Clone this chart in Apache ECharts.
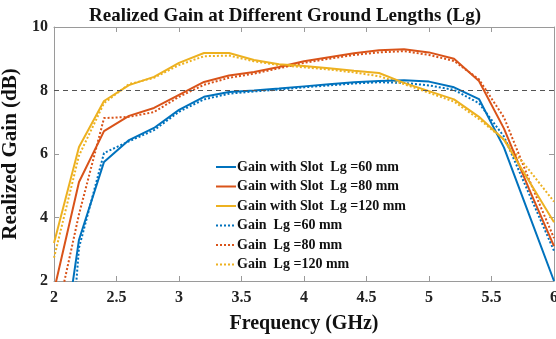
<!DOCTYPE html>
<html>
<head>
<meta charset="utf-8">
<script src="https://cdn.jsdelivr.net/npm/echarts@6/dist/echarts.min.js"></script>
<style>html,body{margin:0;padding:0;background:#fff;}#c{width:556px;height:339px;}</style>
</head>
<body>
<div id="c"></div>
<script>
var freq = [2.0,2.2,2.4,2.6,2.8,3.0,3.2,3.4,3.6,3.8,4.0,4.2,4.4,4.6,4.8,5.0,5.2,5.4,5.6,5.8,6.0];
var slot60  = [-2.1,3.3,5.75,6.44,6.82,7.39,7.8,7.95,8.0,8.06,8.13,8.2,8.26,8.3,8.32,8.28,8.1,7.73,6.2,4.1,2.0];
var slot80  = [1.7,5.12,6.72,7.2,7.45,7.86,8.27,8.47,8.58,8.74,8.92,9.05,9.17,9.27,9.3,9.2,9.0,8.3,6.8,4.9,3.1];
var slot120 = [3.2,6.22,7.67,8.17,8.43,8.87,9.18,9.18,8.96,8.83,8.77,8.7,8.62,8.55,8.24,7.98,7.72,7.17,6.45,5.15,3.85];
var gain60  = [-7,3.05,6.03,6.4,6.75,7.33,7.72,7.9,7.97,8.03,8.1,8.16,8.22,8.26,8.24,8.16,8.02,7.6,6.55,4.75,2.95];
var gain80  = [0.5,4.1,7.13,7.17,7.32,7.8,8.18,8.4,8.53,8.7,8.87,9.0,9.12,9.2,9.24,9.12,8.93,8.35,7.15,5.2,3.35];
var gain120 = [2.73,5.95,7.6,8.2,8.4,8.8,9.08,9.1,8.92,8.8,8.73,8.66,8.57,8.45,8.2,7.93,7.65,7.1,6.45,5.5,4.5];
var names = ['Gain with Slot  Lg =60 mm','Gain with Slot  Lg =80 mm','Gain with Slot  Lg =120 mm','Gain  Lg =60 mm','Gain  Lg =80 mm','Gain  Lg =120 mm'];
var refLevel = 8;

var colors = ['#0072BD','#D95319','#EDB120'];
var FONT = '"Liberation Serif","Times New Roman",serif';
function pairs(arr){ return freq.map(function(f,i){ return [f, arr[i]]; }); }
function mk(name, arr, color, dotted){
  return {
    name: name, type: 'line', data: pairs(arr), symbol: 'none', clip: true,
    lineStyle: {color: color, width: 2, type: dotted ? [2,2] : 'solid'},
    itemStyle: {color: color}, z: dotted ? 3 : 4
  };
}
var series = [
  mk(names[0], slot60, colors[0], false),
  mk(names[1], slot80, colors[1], false),
  mk(names[2], slot120, colors[2], false),
  mk(names[3], gain60, colors[0], true),
  mk(names[4], gain80, colors[1], true),
  mk(names[5], gain120, colors[2], true)
];
series[0].markLine = {
  silent: true, symbol: 'none', label: {show: false},
  lineStyle: {color: '#555', type: [5,4], width: 1},
  data: [{yAxis: refLevel}]
};
var axisLine = {show: true, lineStyle: {color: '#9a9a9a', width: 1}};
var chart = echarts.init(document.getElementById('c'), null, {renderer: 'canvas'});
chart.setOption({
  animation: false,
  backgroundColor: '#fff',
  graphic: [{
    type: 'text', x: 285, y: 16,
    style: {text: 'Realized Gain at Different Ground Lengths (Lg)', font: 'bold 19px ' + FONT, fill: '#111', align: 'center', verticalAlign: 'middle'}
  }],
  grid: {left: 54, right: 2, top: 27, bottom: 58, outerBoundsMode: 'none', containLabel: false},
  legend: {
    orient: 'vertical', left: 210, top: 155, itemWidth: 20, itemHeight: 10, itemGap: 5.5,
    data: names,
    itemStyle: {opacity: 0},
    textStyle: {fontFamily: FONT, fontWeight: 'bold', fontSize: 14, color: '#111', padding: [0,0,0,-4]}
  },
  xAxis: [{
    type: 'value', min: 2, max: 6, interval: 0.5,
    name: 'Frequency (GHz)', nameLocation: 'middle', nameGap: 33,
    nameTextStyle: {fontFamily: FONT, fontWeight: 'bold', fontSize: 20, color: '#111'},
    axisLine: axisLine, axisTick: {show: true, inside: true, length: 5, lineStyle: {color: '#9a9a9a'}},
    axisLabel: {fontFamily: FONT, fontWeight: 'bold', fontSize: 16, color: '#222', margin: 9},
    splitLine: {show: false}
  },{
    type: 'value', min: 2, max: 6, interval: 0.5, position: 'top',
    axisLine: axisLine, axisTick: {show: true, inside: true, length: 5, lineStyle: {color: '#9a9a9a'}},
    axisLabel: {show: false}, splitLine: {show: false}
  }],
  yAxis: [{
    type: 'value', min: 2, max: 10, interval: 2,
    name: 'Realized Gain (dB)', nameLocation: 'middle', nameGap: 28,
    nameTextStyle: {fontFamily: FONT, fontWeight: 'bold', fontSize: 21, color: '#111'},
    axisLine: axisLine, axisTick: {show: true, inside: true, length: 5, lineStyle: {color: '#9a9a9a'}},
    axisLabel: {fontFamily: FONT, fontWeight: 'bold', fontSize: 16, color: '#222', margin: 6},
    splitLine: {show: false}
  },{
    type: 'value', min: 2, max: 10, interval: 2, position: 'right',
    axisLine: axisLine, axisTick: {show: true, inside: true, length: 5, lineStyle: {color: '#9a9a9a'}},
    axisLabel: {show: false}, splitLine: {show: false}
  }],
  series: series
});
</script>
</body>
</html>
